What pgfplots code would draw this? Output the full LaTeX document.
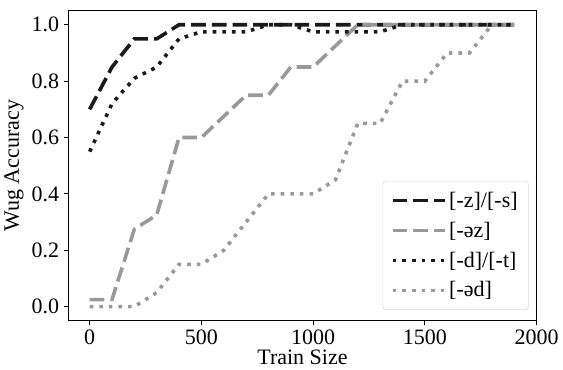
\documentclass[border=0pt]{standalone}
\usepackage{pgfplots}
\pgfplotsset{compat=1.18}
\usepackage{fontspec}
\setmainfont{Liberation Serif}
\definecolor{dk}{HTML}{1A1A1A}
\definecolor{lg}{HTML}{999999}
\begin{document}
\begin{tikzpicture}[font=\fontsize{16.5pt}{19pt}\selectfont]
\begin{axis}[
  width=351pt, height=232.5pt, scale only axis,
  xmin=-95, xmax=2000, ymin=-0.05, ymax=1.05,
  xtick={0,500,1000,1500,2000},
  ytick={0,0.2,0.4,0.6,0.8,1.0},
  xticklabel style={/pgf/number format/.cd,set thousands separator={}},
  yticklabel style={/pgf/number format/.cd,fixed,fixed zerofill,precision=1},
  /pgf/number format/assume math mode=true,
  xtick pos=bottom, ytick pos=left, tick align=outside,
  major tick length=3.5pt,
  tick style={black, line width=0.6pt},
  axis line style={line width=0.6pt},
  ticklabel style={font=\fontsize{16.5pt}{19pt}\selectfont},
  label style={font=\fontsize{16.5pt}{19pt}\selectfont},
  xlabel={Train Size}, ylabel={Wug Accuracy},
  xlabel style={yshift=3pt},
  ylabel style={yshift=-1pt},
  legend cell align=left,
  legend style={at={(rel axis cs:0.983,0.035)}, anchor=south east,
    draw=black!15, rounded corners=2pt, inner xsep=6pt, inner ysep=6pt,
    font=\fontsize{16.5pt}{19pt}\selectfont,
    row sep=5.5pt},
  legend image code/.code={\draw[#1] (0pt,0pt) -- (26.5pt,0pt); \path (0pt,0pt) -- (39pt,0pt);},
]
\addplot[dk, line width=2.7pt, dash pattern=on 11pt off 4.5pt] coordinates {
(0,0.70)(100,0.85)(200,0.95)(300,0.95)(400,1.0)(500,1.0)(600,1.0)(700,1.0)(800,1.0)(900,1.0)(1000,1.0)(1100,1.0)(1200,1.0)(1300,1.0)(1400,1.0)(1500,1.0)(1600,1.0)(1700,1.0)(1800,1.0)(1900,1.0)};
\addlegendentry{[-z]/[-s]}
\addplot[lg, line width=2.7pt, dash pattern=on 11pt off 4.5pt] coordinates {
(0,0.025)(100,0.025)(200,0.275)(300,0.325)(400,0.6)(500,0.6)(600,0.675)(700,0.75)(800,0.75)(900,0.85)(1000,0.85)(1100,0.925)(1200,1.0)(1300,1.0)(1400,1.0)(1500,1.0)(1600,1.0)(1700,1.0)(1800,1.0)(1900,1.0)};
\addlegendentry{[-əz]}
\addplot[dk, line width=2.7pt, dash pattern=on 2.7pt off 4.5pt] coordinates {
(0,0.55)(100,0.72)(200,0.81)(300,0.85)(400,0.95)(500,0.975)(600,0.975)(700,0.975)(800,1.0)(900,1.0)(1000,0.975)(1100,0.975)(1200,0.975)(1300,0.975)(1400,1.0)(1500,1.0)(1600,1.0)(1700,1.0)(1800,1.0)(1900,1.0)};
\addlegendentry{[-d]/[-t]}
\addplot[lg, line width=2.7pt, dash pattern=on 2.7pt off 4.5pt] coordinates {
(0,0.0)(100,0.0)(200,0.0)(300,0.05)(400,0.15)(500,0.15)(600,0.2)(700,0.3)(800,0.4)(900,0.4)(1000,0.4)(1100,0.45)(1200,0.65)(1300,0.65)(1400,0.8)(1500,0.8)(1600,0.9)(1700,0.9)(1800,1.0)(1900,1.0)};
\addlegendentry{[-əd]}
\end{axis}
\path ([yshift=8pt]current axis.north east);
\end{tikzpicture}
\end{document}
